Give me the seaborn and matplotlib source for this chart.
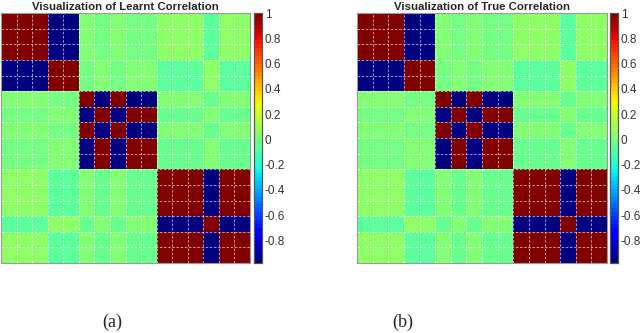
import numpy as np
import matplotlib
matplotlib.use('Agg')
import matplotlib.pyplot as plt
import seaborn as sns

# Correlation values (16 variables, 3 blocks)
learnt_corr = [
    [1.00, 1.00, 1.00, -0.98, -0.98, 0.01, -0.01, 0.01, -0.01, -0.01, 0.07, 0.07, 0.07, -0.07, 0.07, 0.07],
    [1.00, 1.00, 1.00, -0.98, -0.98, 0.01, -0.01, 0.01, -0.01, -0.01, 0.07, 0.07, 0.07, -0.07, 0.07, 0.07],
    [1.00, 1.00, 1.00, -0.98, -0.98, 0.01, -0.01, 0.01, -0.01, -0.01, 0.07, 0.07, 0.07, -0.07, 0.07, 0.07],
    [-0.98, -0.98, -0.98, 1.00, 1.00, -0.01, 0.01, -0.01, 0.01, 0.01, -0.07, -0.07, -0.07, 0.07, -0.07, -0.07],
    [-0.98, -0.98, -0.98, 1.00, 1.00, -0.01, 0.01, -0.01, 0.01, 0.01, -0.07, -0.07, -0.07, 0.07, -0.07, -0.07],
    [0.01, 0.01, 0.01, -0.01, -0.01, 1.00, -0.98, 1.00, -0.98, -0.98, 0.03, 0.03, 0.03, -0.03, 0.03, 0.03],
    [-0.01, -0.01, -0.01, 0.01, 0.01, -0.98, 1.00, -0.98, 1.00, 1.00, -0.03, -0.03, -0.03, 0.03, -0.03, -0.03],
    [0.01, 0.01, 0.01, -0.01, -0.01, 1.00, -0.98, 1.00, -0.98, -0.98, 0.03, 0.03, 0.03, -0.03, 0.03, 0.03],
    [-0.01, -0.01, -0.01, 0.01, 0.01, -0.98, 1.00, -0.98, 1.00, 1.00, -0.03, -0.03, -0.03, 0.03, -0.03, -0.03],
    [-0.01, -0.01, -0.01, 0.01, 0.01, -0.98, 1.00, -0.98, 1.00, 1.00, -0.03, -0.03, -0.03, 0.03, -0.03, -0.03],
    [0.07, 0.07, 0.07, -0.07, -0.07, 0.03, -0.03, 0.03, -0.03, -0.03, 1.00, 1.00, 1.00, -0.98, 1.00, 1.00],
    [0.07, 0.07, 0.07, -0.07, -0.07, 0.03, -0.03, 0.03, -0.03, -0.03, 1.00, 1.00, 1.00, -0.98, 1.00, 1.00],
    [0.07, 0.07, 0.07, -0.07, -0.07, 0.03, -0.03, 0.03, -0.03, -0.03, 1.00, 1.00, 1.00, -0.98, 1.00, 1.00],
    [-0.07, -0.07, -0.07, 0.07, 0.07, -0.03, 0.03, -0.03, 0.03, 0.03, -0.98, -0.98, -0.98, 1.00, -0.98, -0.98],
    [0.07, 0.07, 0.07, -0.07, -0.07, 0.03, -0.03, 0.03, -0.03, -0.03, 1.00, 1.00, 1.00, -0.98, 1.00, 1.00],
    [0.07, 0.07, 0.07, -0.07, -0.07, 0.03, -0.03, 0.03, -0.03, -0.03, 1.00, 1.00, 1.00, -0.98, 1.00, 1.00],
]

true_corr = [
    [1.00, 1.00, 1.00, -0.98, -0.98, 0.01, -0.01, 0.01, -0.01, -0.01, 0.07, 0.07, 0.07, -0.07, 0.07, 0.07],
    [1.00, 1.00, 1.00, -0.98, -0.98, 0.01, -0.01, 0.01, -0.01, -0.01, 0.07, 0.07, 0.07, -0.07, 0.07, 0.07],
    [1.00, 1.00, 1.00, -0.98, -0.98, 0.01, -0.01, 0.01, -0.01, -0.01, 0.07, 0.07, 0.07, -0.07, 0.07, 0.07],
    [-0.98, -0.98, -0.98, 1.00, 1.00, -0.01, 0.01, -0.01, 0.01, 0.01, -0.07, -0.07, -0.07, 0.07, -0.07, -0.07],
    [-0.98, -0.98, -0.98, 1.00, 1.00, -0.01, 0.01, -0.01, 0.01, 0.01, -0.07, -0.07, -0.07, 0.07, -0.07, -0.07],
    [0.01, 0.01, 0.01, -0.01, -0.01, 1.00, -0.98, 1.00, -0.98, -0.98, 0.03, 0.03, 0.03, -0.03, 0.03, 0.03],
    [-0.01, -0.01, -0.01, 0.01, 0.01, -0.98, 1.00, -0.98, 1.00, 1.00, -0.03, -0.03, -0.03, 0.03, -0.03, -0.03],
    [0.01, 0.01, 0.01, -0.01, -0.01, 1.00, -0.98, 1.00, -0.98, -0.98, 0.03, 0.03, 0.03, -0.03, 0.03, 0.03],
    [-0.01, -0.01, -0.01, 0.01, 0.01, -0.98, 1.00, -0.98, 1.00, 1.00, -0.03, -0.03, -0.03, 0.03, -0.03, -0.03],
    [-0.01, -0.01, -0.01, 0.01, 0.01, -0.98, 1.00, -0.98, 1.00, 1.00, -0.03, -0.03, -0.03, 0.03, -0.03, -0.03],
    [0.07, 0.07, 0.07, -0.07, -0.07, 0.03, -0.03, 0.03, -0.03, -0.03, 1.00, 1.00, 1.00, -0.98, 1.00, 1.00],
    [0.07, 0.07, 0.07, -0.07, -0.07, 0.03, -0.03, 0.03, -0.03, -0.03, 1.00, 1.00, 1.00, -0.98, 1.00, 1.00],
    [0.07, 0.07, 0.07, -0.07, -0.07, 0.03, -0.03, 0.03, -0.03, -0.03, 1.00, 1.00, 1.00, -0.98, 1.00, 1.00],
    [-0.07, -0.07, -0.07, 0.07, 0.07, -0.03, 0.03, -0.03, 0.03, 0.03, -0.98, -0.98, -0.98, 1.00, -0.98, -0.98],
    [0.07, 0.07, 0.07, -0.07, -0.07, 0.03, -0.03, 0.03, -0.03, -0.03, 1.00, 1.00, 1.00, -0.98, 1.00, 1.00],
    [0.07, 0.07, 0.07, -0.07, -0.07, 0.03, -0.03, 0.03, -0.03, -0.03, 1.00, 1.00, 1.00, -0.98, 1.00, 1.00],
]

titles = ['Visualization of Learnt Correlation', 'Visualization of True Correlation']
sublabels = ['(a)', '(b)']
cbar_ticks = [-0.8, -0.6, -0.4, -0.2, 0, 0.2, 0.4, 0.6, 0.8, 1]

sns.set_style('white')
plt.rcParams['font.family'] = ['Liberation Sans', 'DejaVu Sans']

jet = plt.get_cmap('jet', 64)

fig = plt.figure(figsize=(6.4, 3.33), dpi=100)
W, H = 640.0, 333.0
ax_pos = [[1, 250], [357, 607]]
cb_pos = [[254, 262], [610, 618]]
top, bottom = 13, 263
label_x = [112, 403]

for i, mat in enumerate([learnt_corr, true_corr]):
    x0, x1 = ax_pos[i]
    ax = fig.add_axes([x0 / W, (H - bottom) / H, (x1 - x0) / W, (bottom - top) / H])
    c0, c1 = cb_pos[i]
    cax = fig.add_axes([c0 / W, (H - bottom) / H, (c1 - c0) / W, (bottom - top) / H])

    data = np.array(mat)
    n = data.shape[0]
    sns.heatmap(data, cmap=jet, vmin=-0.98, vmax=1, ax=ax, cbar_ax=cax,
                xticklabels=False, yticklabels=False, square=False,
                cbar_kws={'ticks': cbar_ticks})

    # dashed white grid at the cell borders, like MATLAB's grid on
    for k in range(1, n):
        ax.axhline(k, color='white', ls=(0, (3, 2)), lw=0.6, alpha=0.7)
        ax.axvline(k, color='white', ls=(0, (3, 2)), lw=0.6, alpha=0.7)

    ax.set_xticks(range(1, n))
    ax.set_yticks(range(1, n))
    ax.set_xticklabels([])
    ax.set_yticklabels([])
    ax.tick_params(direction='in', length=2.5, width=0.5, color='#555555',
                   top=True, right=True, bottom=True, left=True)
    for sp in ax.spines.values():
        sp.set_visible(True)
        sp.set_color('#9a9a9a')
        sp.set_linewidth(0.8)

    ax.set_title(titles[i], fontsize=8.2, fontweight='bold', pad=2.5)

    cax.set_yticks(cbar_ticks)
    cax.set_yticklabels(['%g' % t for t in cbar_ticks])
    cax.tick_params(direction='in', length=2, width=0.5, labelsize=8.5,
                    pad=2, colors='#333333', right=True, left=True)
    for sp in cax.spines.values():
        sp.set_visible(True)
        sp.set_color('#555555')
        sp.set_linewidth(0.8)

    fig.text(label_x[i] / W, (H - 322) / H, sublabels[i], ha='center', va='center',
             fontsize=13, family=['Liberation Serif', 'DejaVu Serif'])

plt.savefig('out.png', dpi=100)
plt.close()
